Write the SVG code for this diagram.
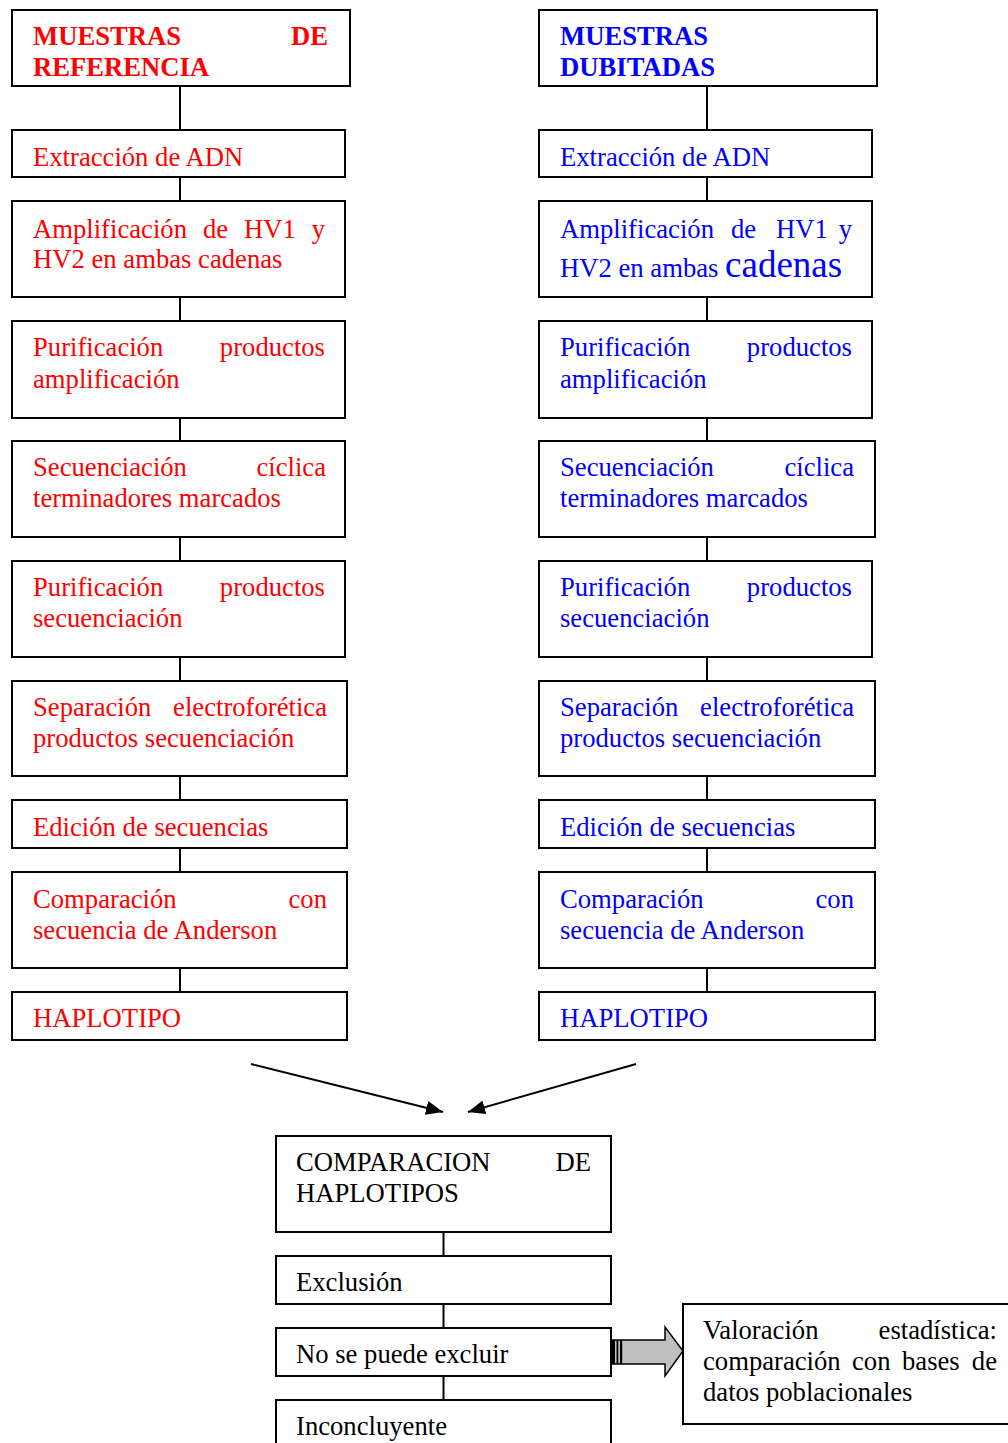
<svg xmlns="http://www.w3.org/2000/svg" width="1008" height="1443" viewBox="0 0 1008 1443">
<style>
  .box { fill: #ffffff; stroke: #000000; stroke-width: 2; }
  .conn { stroke: #000000; stroke-width: 2; fill: none; }
  text { font-family: "Liberation Serif", "Times New Roman", serif; font-size: 26.67px; }
  .r { fill: #ff0000; }
  .b { fill: #0000ff; }
  .k { fill: #000000; }
  .hd { font-weight: bold; }
  .end { text-anchor: end; }
</style>
<defs>
  <marker id="ah" markerUnits="userSpaceOnUse" markerWidth="18" markerHeight="14" refX="17" refY="7" orient="auto">
    <path d="M0,0 L17,7 L0,14 Z" fill="#000000"/>
  </marker>
</defs>
<rect x="0" y="0" width="1008" height="1443" fill="#ffffff"/>

<g id="connectors">
  <path class="conn" d="M180,82 V130 M180,177 V201 M180,297 V321 M180,418 V441 M180,537 V561 M180,657 V681 M180,776 V800 M180,848 V872 M180,968 V992"/>
  <path class="conn" d="M707,82 V130 M707,177 V201 M707,297 V321 M707,418 V441 M707,537 V561 M707,657 V681 M707,776 V800 M707,848 V872 M707,968 V992"/>
  <path class="conn" d="M443.5,1232 V1256 M443.5,1304 V1328 M443.5,1376 V1400"/>
  <line class="conn" x1="251" y1="1064" x2="443" y2="1112" marker-end="url(#ah)"/>
  <line class="conn" x1="636" y1="1064" x2="468" y2="1112" marker-end="url(#ah)"/>
  <g id="block-arrow">
    <polygon points="612,1340 665,1340 665,1327 683,1351 665,1376 665,1364 612,1364" fill="#c0c0c0" stroke="#000000" stroke-width="1.5"/>
    <rect x="611.5" y="1340" width="3.5" height="24" fill="#000000"/>
    <rect x="616.5" y="1340" width="1.8" height="24" fill="#000000"/>
    <rect x="620" y="1340" width="2.2" height="24" fill="#000000"/>
  </g>
</g>

<!-- Left column -->
<g id="ref-muestras">
  <rect class="box" x="12" y="10" width="338" height="76"/>
  <text class="r hd" x="33" y="45">MUESTRAS</text>
  <text class="r hd end" x="328" y="45">DE</text>
  <text class="r hd" x="33" y="76">REFERENCIA</text>
</g>
<g id="ref-extraccion">
  <rect class="box" x="12" y="130" width="333" height="47"/>
  <text class="r" x="33" y="166">Extracción de ADN</text>
</g>
<g id="ref-amplificacion">
  <rect class="box" x="12" y="201" width="333" height="96"/>
  <text class="r" y="238"><tspan x="33">Amplificación</tspan><tspan x="203">de</tspan><tspan x="244">HV1</tspan></text>
  <text class="r end" x="325" y="238">y</text>
  <text class="r" x="33" y="268">HV2 en ambas cadenas</text>
</g>
<g id="ref-purif-amp">
  <rect class="box" x="12" y="321" width="333" height="97"/>
  <text class="r" x="33" y="356">Purificación</text>
  <text class="r end" x="325" y="356">productos</text>
  <text class="r" x="33" y="388">amplificación</text>
</g>
<g id="ref-secuenciacion">
  <rect class="box" x="12" y="441" width="333" height="96"/>
  <text class="r" x="33" y="476">Secuenciación</text>
  <text class="r end" x="326" y="476">cíclica</text>
  <text class="r" x="33" y="507">terminadores marcados</text>
</g>
<g id="ref-purif-sec">
  <rect class="box" x="12" y="561" width="333" height="96"/>
  <text class="r" x="33" y="596">Purificación</text>
  <text class="r end" x="325" y="596">productos</text>
  <text class="r" x="33" y="627">secuenciación</text>
</g>
<g id="ref-separacion">
  <rect class="box" x="12" y="681" width="335" height="95"/>
  <text class="r" x="33" y="716">Separación</text>
  <text class="r end" x="327" y="716">electroforética</text>
  <text class="r" x="33" y="747">productos secuenciación</text>
</g>
<g id="ref-edicion">
  <rect class="box" x="12" y="800" width="335" height="48"/>
  <text class="r" x="33" y="836">Edición de secuencias</text>
</g>
<g id="ref-comparacion">
  <rect class="box" x="12" y="872" width="335" height="96"/>
  <text class="r" x="33" y="908">Comparación</text>
  <text class="r end" x="327" y="908">con</text>
  <text class="r" x="33" y="939">secuencia de Anderson</text>
</g>
<g id="ref-haplotipo">
  <rect class="box" x="12" y="992" width="335" height="48"/>
  <text class="r" x="33" y="1027">HAPLOTIPO</text>
</g>

<!-- Right column -->
<g id="dub-muestras">
  <rect class="box" x="539" y="10" width="338" height="76"/>
  <text class="b hd" x="560" y="45">MUESTRAS</text>
  <text class="b hd" x="560" y="76">DUBITADAS</text>
</g>
<g id="dub-extraccion">
  <rect class="box" x="539" y="130" width="333" height="47"/>
  <text class="b" x="560" y="166">Extracción de ADN</text>
</g>
<g id="dub-amplificacion">
  <rect class="box" x="539" y="201" width="333" height="96"/>
  <text class="b" y="238"><tspan x="560">Amplificación</tspan><tspan x="731">de</tspan><tspan x="776">HV1</tspan></text>
  <text class="b end" x="852" y="238">y</text>
  <text class="b" x="560" y="277">HV2 en ambas <tspan style="font-size:37px">cadenas</tspan></text>
</g>
<g id="dub-purif-amp">
  <rect class="box" x="539" y="321" width="333" height="97"/>
  <text class="b" x="560" y="356">Purificación</text>
  <text class="b end" x="852" y="356">productos</text>
  <text class="b" x="560" y="388">amplificación</text>
</g>
<g id="dub-secuenciacion">
  <rect class="box" x="539" y="441" width="336" height="96"/>
  <text class="b" x="560" y="476">Secuenciación</text>
  <text class="b end" x="854" y="476">cíclica</text>
  <text class="b" x="560" y="507">terminadores marcados</text>
</g>
<g id="dub-purif-sec">
  <rect class="box" x="539" y="561" width="333" height="96"/>
  <text class="b" x="560" y="596">Purificación</text>
  <text class="b end" x="852" y="596">productos</text>
  <text class="b" x="560" y="627">secuenciación</text>
</g>
<g id="dub-separacion">
  <rect class="box" x="539" y="681" width="336" height="95"/>
  <text class="b" x="560" y="716">Separación</text>
  <text class="b end" x="854" y="716">electroforética</text>
  <text class="b" x="560" y="747">productos secuenciación</text>
</g>
<g id="dub-edicion">
  <rect class="box" x="539" y="800" width="336" height="48"/>
  <text class="b" x="560" y="836">Edición de secuencias</text>
</g>
<g id="dub-comparacion">
  <rect class="box" x="539" y="872" width="336" height="96"/>
  <text class="b" x="560" y="908">Comparación</text>
  <text class="b end" x="854" y="908">con</text>
  <text class="b" x="560" y="939">secuencia de Anderson</text>
</g>
<g id="dub-haplotipo">
  <rect class="box" x="539" y="992" width="336" height="48"/>
  <text class="b" x="560" y="1027">HAPLOTIPO</text>
</g>

<!-- Bottom -->
<g id="comparacion-haplotipos">
  <rect class="box" x="276" y="1136" width="335" height="96"/>
  <text class="k" x="296" y="1171">COMPARACION</text>
  <text class="k end" x="591" y="1171">DE</text>
  <text class="k" x="296" y="1202">HAPLOTIPOS</text>
</g>
<g id="exclusion">
  <rect class="box" x="276" y="1256" width="335" height="48"/>
  <text class="k" x="296" y="1291">Exclusión</text>
</g>
<g id="no-excluir">
  <rect class="box" x="276" y="1328" width="335" height="48"/>
  <text class="k" x="296" y="1363">No se puede excluir</text>
</g>
<g id="inconcluyente">
  <rect class="box" x="276" y="1400" width="335" height="50"/>
  <text class="k" x="296" y="1435">Inconcluyente</text>
</g>
<g id="valoracion">
  <rect class="box" x="683" y="1304" width="340" height="120"/>
  <text class="k" x="703" y="1339">Valoración</text>
  <text class="k end" x="997" y="1339">estadística:</text>
  <text class="k" y="1370"><tspan x="703">comparación</tspan><tspan x="852">con</tspan><tspan x="902">bases</tspan></text>
  <text class="k end" x="997" y="1370">de</text>
  <text class="k" x="703" y="1401">datos poblacionales</text>
</g>
</svg>
